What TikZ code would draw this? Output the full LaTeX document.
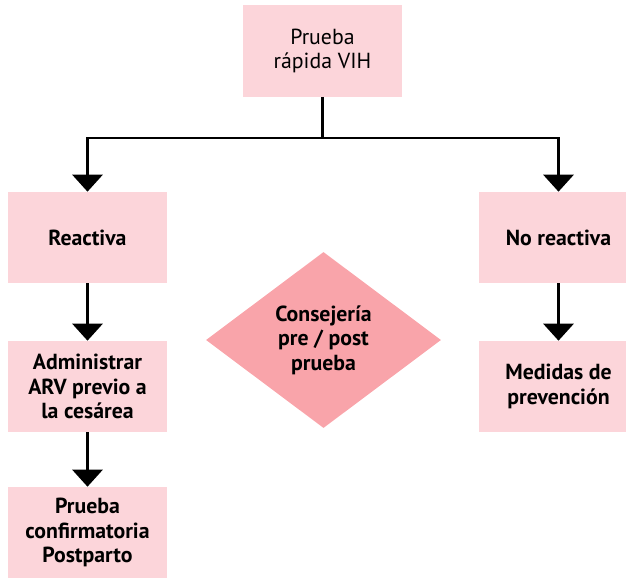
\documentclass[tikz,border=0pt]{standalone}
\usepackage{fontspec}
\setmainfont{PT Sans}
\usepackage{xcolor}
\usepackage{tikz}
\usetikzlibrary{shapes.geometric, arrows.meta}

\definecolor{boxpink}{RGB}{252,213,218}
\definecolor{diapink}{RGB}{249,164,170}

\tikzset{
  box/.style={fill=boxpink, minimum width=3.975cm, minimum height=2.275cm,
    align=center, font=\fontsize{15.5}{17.5}\selectfont\bfseries},
  decision/.style={diamond, fill=diapink, minimum width=5.875cm, minimum height=4.4cm,
    inner sep=0pt, align=center, font=\fontsize{15.5}{17.5}\selectfont\bfseries},
  flow/.style={line width=2.1pt},
  arrow/.style={flow, -{Triangle[width=0.75cm, length=0.425cm]}}
}

\begin{document}
\begin{tikzpicture}[x=0.025cm, y=-0.025cm]
  \useasboundingbox (0,0) rectangle (626,578);

  % Draw boxes
  \node[box, font=\fontsize{15.5}{17.5}\selectfont] (test) at (322.5,51) {Prueba\\rápida VIH};
  \node[box] (reactive) at (87.5,237.5) {Reactiva};
  \node[box] (nonreactive) at (558.5,237.5) {No reactiva};
  \node[box] (arv) at (87.5,386.5) {Administrar\\ARV previo a\\la cesárea};
  \node[box] (prevention) at (558.5,386.5) {Medidas de\\prevención};
  \node[box] (confirm) at (87.5,532.5) {Prueba\\confirmatoria\\Postparto};

  % Draw counselling diamond
  \node[decision] (counsel) at (323.5,340) {Consejería\\pre / post\\prueba};

  % Draw split below the test
  \coordinate (split) at (322.5,138);
  \draw[flow] (test) -- (split);
  \draw[arrow] (split) -| (reactive);
  \draw[arrow] (split) -| (nonreactive);

  % Draw next steps
  \draw[arrow] (reactive) -- (arv);
  \draw[arrow] (arv) -- (confirm);
  \draw[arrow] (nonreactive) -- (prevention);
\end{tikzpicture}
\end{document}
